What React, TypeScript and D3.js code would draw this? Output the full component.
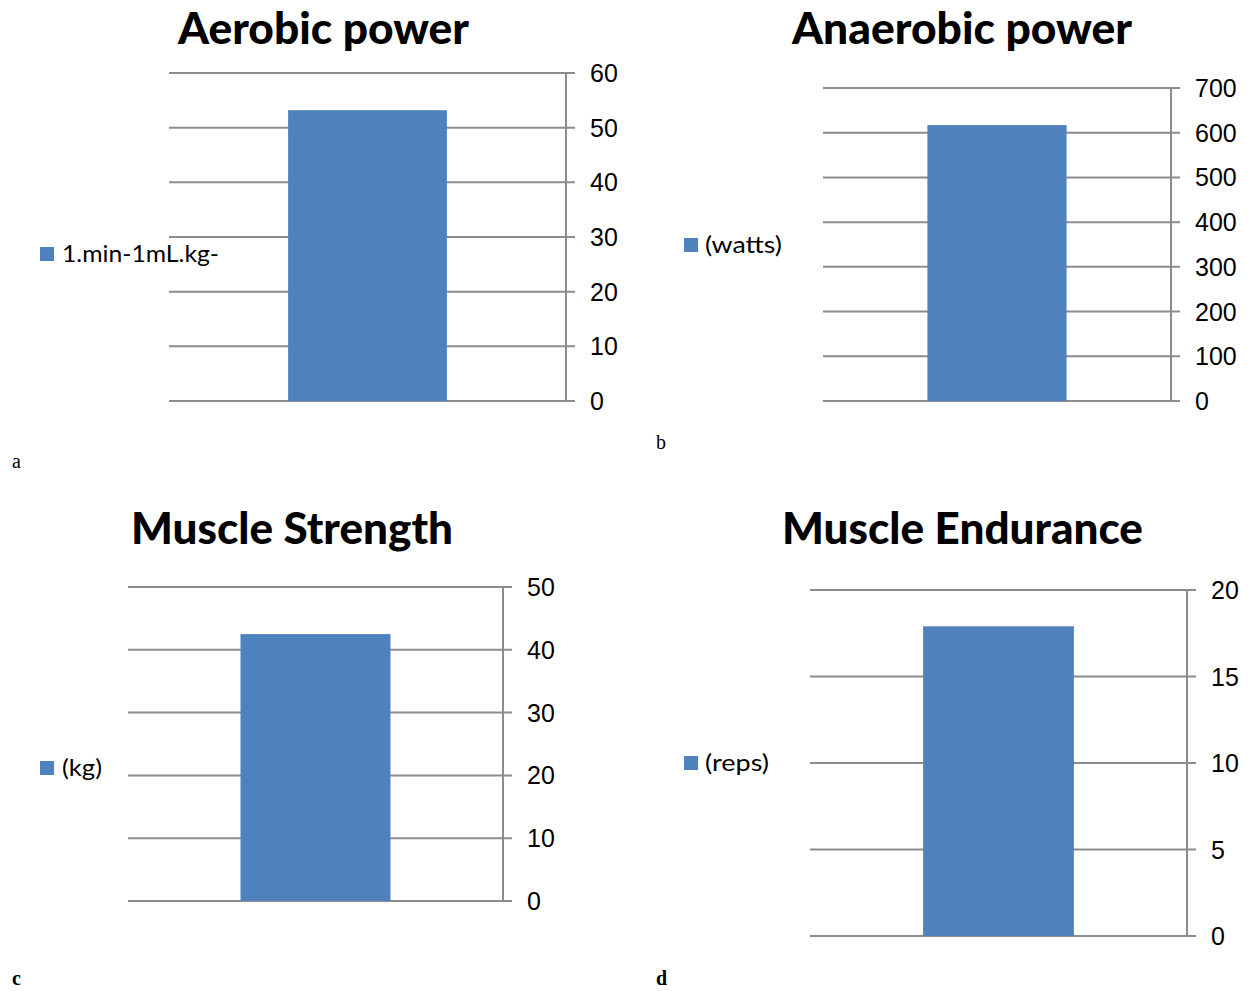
import React from "react";
import * as d3 from "d3";

const titles = ["Aerobic power", "Anaerobic power", "Muscle Strength", "Muscle Endurance"];
const legendLabels = ["1.min-1mL.kg-", "(watts)", "(kg)", "(reps)"];
const values = [53.2, 617, 42.5, 17.9];
const axisMax = [60, 700, 50, 20];
const tickSteps = [10, 100, 10, 5];
const panelLetters = ["a", "b", "c", "d"];

// layout (pixel positions)
const layouts = [
  { left: 169, right: 566, top: 73, bottom: 401, tcx: 323.5, ty: 44, tw: 291, lx: 40, ly: 247, ltx: 62, lty: 262, ltw: 157, px: 12, py: 468, pb: false },
  { left: 823, right: 1171, top: 88, bottom: 401, tcx: 962, ty: 44, tw: 340, lx: 684, ly: 238, ltx: 705, lty: 253, ltw: 77, px: 656, py: 449, pb: false },
  { left: 128, right: 503, top: 587, bottom: 901, tcx: 292, ty: 544, tw: 322, lx: 40, ly: 761, ltx: 62, lty: 776, ltw: 40, px: 12, py: 985, pb: true },
  { left: 810, right: 1187, top: 590, bottom: 936, tcx: 962.5, ty: 544, tw: 361, lx: 684, ly: 756, ltx: 705, lty: 771, ltw: 64, px: 656, py: 985, pb: true },
];

const BAR = "#4F81BD";
const GRID = "#8c8c8c";

function Panel({ i }: { i: number }) {
  const L = layouts[i];
  const y = d3.scaleLinear().domain([0, axisMax[i]]).range([L.bottom, L.top]);
  const x = d3
    .scaleBand<string>()
    .domain([titles[i]])
    .range([L.left, L.right])
    .paddingInner(0.4286)
    .paddingOuter(0.4286);
  const ticks = d3.range(0, axisMax[i] + tickSteps[i] / 2, tickSteps[i]);
  return (
    <g>
      <text
        x={L.tcx}
        y={L.ty}
        textAnchor="middle"
        fontFamily="Lato, 'Open Sans', sans-serif"
        fontWeight={900}
        fontSize={43}
        textLength={L.tw}
        lengthAdjust="spacingAndGlyphs"
        fill="#000"
      >
        {titles[i]}
      </text>
      {ticks.map((t) => (
        <line
          key={"g" + t}
          x1={L.left}
          x2={L.right + 9}
          y1={y(t)}
          y2={y(t)}
          stroke={GRID}
          strokeWidth={2}
        />
      ))}
      <line x1={L.right} x2={L.right} y1={y(axisMax[i])} y2={y(0)} stroke={GRID} strokeWidth={2} />
      <rect
        x={x(titles[i])}
        width={x.bandwidth()}
        y={y(values[i])}
        height={y(0) - y(values[i])}
        fill={BAR}
      />
      {ticks.map((t) => (
        <text
          key={"t" + t}
          x={L.right + 24}
          y={y(t)}
          dy="0.36em"
          fontFamily="'Liberation Sans', Arial, sans-serif"
          fontSize={25}
          fill="#000"
        >
          {t}
        </text>
      ))}
      <rect x={L.lx} y={L.ly} width={14} height={14} fill={BAR} />
      <text
        x={L.ltx}
        y={L.lty}
        fontFamily="Lato, 'Open Sans', sans-serif"
        fontSize={23}
        textLength={L.ltw}
        lengthAdjust="spacingAndGlyphs"
        fill="#000"
      >
        {legendLabels[i]}
      </text>
      <text
        x={L.px}
        y={L.py}
        fontFamily="'Liberation Serif', 'Times New Roman', serif"
        fontSize={20}
        fontWeight={L.pb ? 700 : 400}
        fill="#000"
      >
        {panelLetters[i]}
      </text>
    </g>
  );
}

export default function App() {
  return (
    <svg
      width={1250}
      height={991}
      style={{ position: "absolute", left: 0, top: 0, background: "#fff" }}
    >
      <rect x={0} y={0} width={1250} height={991} fill="#fff" />
      {titles.map((_, i) => (
        <Panel key={i} i={i} />
      ))}
    </svg>
  );
}
